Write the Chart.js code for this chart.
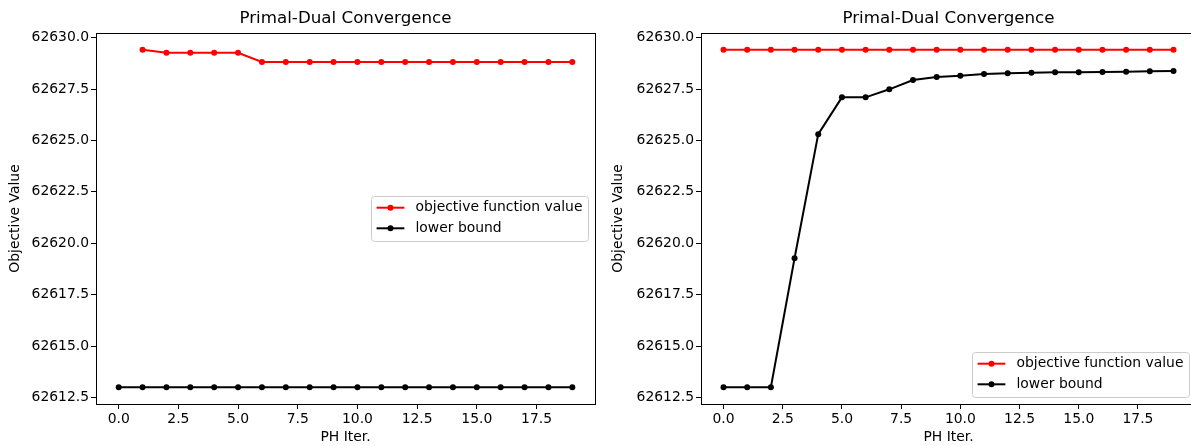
<!DOCTYPE html>
<html>
<head>
<meta charset="utf-8">
<script src="https://cdn.jsdelivr.net/npm/chart.js@4.4.1/dist/chart.umd.min.js"></script>
<style>
  html, body { margin: 0; padding: 0; background: #fff; }
  body { width: 1191px; height: 446px; overflow: hidden; position: relative; }
  .panel { position: absolute; top: 0; width: 600px; height: 446px; }
  #leftPanel { left: 0; }
  #rightPanel { left: 600px; }
</style>
</head>
<body>
<div class="panel" id="leftPanel"><canvas id="leftChart" width="600" height="446"></canvas></div>
<div class="panel" id="rightPanel"><canvas id="rightChart" width="600" height="446"></canvas></div>
<script>
const iterations = [0, 1, 2, 3, 4, 5, 6, 7, 8, 9, 10, 11, 12, 13, 14, 15, 16, 17, 18, 19];

// left panel
const leftObjective = [null, 62629.41, 62629.27, 62629.27, 62629.27, 62629.27, 62628.82, 62628.82, 62628.82, 62628.82,
    62628.82, 62628.82, 62628.82, 62628.82, 62628.82, 62628.82, 62628.82, 62628.82, 62628.82, 62628.82];
const leftLower = [62613.0, 62613.0, 62613.0, 62613.0, 62613.0, 62613.0, 62613.0, 62613.0, 62613.0, 62613.0,
    62613.0, 62613.0, 62613.0, 62613.0, 62613.0, 62613.0, 62613.0, 62613.0, 62613.0, 62613.0];

// right panel
const rightObjective = [62629.41, 62629.41, 62629.41, 62629.41, 62629.41, 62629.41, 62629.41, 62629.41, 62629.41, 62629.41,
    62629.41, 62629.41, 62629.41, 62629.41, 62629.41, 62629.41, 62629.41, 62629.41, 62629.41, 62629.41];
const rightLower = [62613.0, 62613.0, 62613.0, 62619.27, 62625.31, 62627.10, 62627.10, 62627.49, 62627.94, 62628.09,
    62628.15, 62628.23, 62628.27, 62628.30, 62628.32, 62628.32, 62628.33, 62628.35, 62628.37, 62628.38];

const xTicks = [0, 2.5, 5, 7.5, 10, 12.5, 15, 17.5];
const yTicks = [62612.5, 62615, 62617.5, 62620, 62622.5, 62625, 62627.5, 62630];
const seriesNames = ['objective function value', 'lower bound'];
const seriesColors = ['#ff0000', '#000000'];

const FONT = 'DejaVu Sans';
const TICK_SIZE = 13.9;

const toPoints = (values) => iterations.map((x, i) => ({ x: x, y: values[i] }));

const frameAndTitle = {
    id: 'frameAndTitle',
    afterDraw(chart, args, opts) {
        const ctx = chart.ctx;
        const a = chart.chartArea;
        ctx.save();
        ctx.strokeStyle = '#000';
        ctx.lineWidth = 1;
        ctx.strokeRect(Math.round(a.left) + 0.5, Math.round(a.top) + 0.5,
            Math.round(a.right - a.left), Math.round(a.bottom - a.top));
        ctx.fillStyle = '#000';
        ctx.font = '16.7px "' + FONT + '"';
        ctx.textAlign = 'center';
        ctx.textBaseline = 'middle';
        ctx.fillText(opts.text, (a.left + a.right) / 2, 19);
        ctx.restore();
    }
};

const boxLegend = {
    id: 'boxLegend',
    afterDatasetsDraw(chart, args, opts) {
        const ctx = chart.ctx;
        const a = chart.chartArea;
        const fs = TICK_SIZE;
        ctx.save();
        ctx.font = fs + 'px "' + FONT + '"';
        const textW = Math.max(...seriesNames.map(n => ctx.measureText(n).width));
        const boxW = 0.4 * fs + 2.0 * fs + 0.8 * fs + textW + 0.4 * fs;
        const boxH = 45;
        const right = a.right - 7;
        const left = right - boxW;
        const top = opts.where === 'center right' ? (a.top + a.bottom) / 2 - boxH / 2 : a.bottom - 7 - boxH;

        ctx.fillStyle = 'rgba(255,255,255,0.8)';
        ctx.strokeStyle = '#cccccc';
        ctx.lineWidth = 1;
        ctx.beginPath();
        ctx.roundRect(left + 0.5, top + 0.5, boxW, boxH, 3);
        ctx.fill();
        ctx.stroke();

        seriesNames.forEach((name, i) => {
            const y = top + 11.7 + i * 20.6;
            const x0 = left + 0.4 * fs;
            const x1 = x0 + 2.0 * fs;
            ctx.strokeStyle = seriesColors[i];
            ctx.lineWidth = 2;
            ctx.beginPath();
            ctx.moveTo(x0, y);
            ctx.lineTo(x1, y);
            ctx.stroke();
            ctx.fillStyle = seriesColors[i];
            ctx.beginPath();
            ctx.arc((x0 + x1) / 2, y, 3, 0, Math.PI * 2);
            ctx.fill();
            ctx.fillStyle = '#000';
            ctx.textAlign = 'left';
            ctx.textBaseline = 'middle';
            ctx.fillText(name, x1 + 0.8 * fs, y);
        });
        ctx.restore();
    }
};

function makeChart(canvasId, objective, lower, yAxisWidth, rightPad, yTitlePad, legendWhere) {
    const ctx = document.getElementById(canvasId).getContext('2d');
    const lineSet = (label, values, color) => ({
        label: label,
        data: toPoints(values),
        borderColor: color,
        backgroundColor: color,
        borderWidth: 2,
        pointRadius: 3,
        pointBorderWidth: 0,
        pointBackgroundColor: color,
        tension: 0,
        spanGaps: false
    });

    return new Chart(ctx, {
        type: 'line',
        data: {
            datasets: [
                lineSet(seriesNames[0], objective, seriesColors[0]),
                lineSet(seriesNames[1], lower, seriesColors[1])
            ]
        },
        options: {
            responsive: false,
            animation: false,
            devicePixelRatio: 1,
            layout: { padding: { top: 33, right: rightPad, bottom: 0, left: 0 } },
            plugins: {
                legend: { display: false },
                tooltip: { enabled: false },
                title: { display: false },
                frameAndTitle: { text: 'Primal-Dual Convergence' },
                boxLegend: { where: legendWhere }
            },
            scales: {
                x: {
                    type: 'linear',
                    min: -0.95,
                    max: 19.95,
                    afterBuildTicks: (scale) => { scale.ticks = xTicks.map(v => ({ value: v })); },
                    afterFit: (scale) => { scale.height = 42; },
                    border: { display: false },
                    grid: { drawOnChartArea: false, drawTicks: true, tickLength: 5, tickColor: '#000', tickWidth: 1 },
                    ticks: {
                        color: '#000',
                        padding: 2,
                        maxRotation: 0,
                        autoSkip: false,
                        font: { family: FONT, size: TICK_SIZE },
                        callback: (v) => Number(v).toFixed(1)
                    },
                    title: {
                        display: true,
                        text: 'PH Iter.',
                        color: '#000',
                        font: { family: FONT, size: TICK_SIZE },
                        padding: { top: 0, bottom: 0 }
                    }
                },
                y: {
                    min: 62612.18,
                    max: 62630.23,
                    afterBuildTicks: (scale) => { scale.ticks = yTicks.map(v => ({ value: v })); },
                    afterFit: (scale) => { scale.width = yAxisWidth; },
                    border: { display: false },
                    grid: { drawOnChartArea: false, drawTicks: true, tickLength: 5, tickColor: '#000', tickWidth: 1 },
                    ticks: {
                        color: '#000',
                        padding: 2,
                        autoSkip: false,
                        font: { family: FONT, size: TICK_SIZE },
                        callback: (v) => Number(v).toFixed(1)
                    },
                    title: {
                        display: true,
                        text: 'Objective Value',
                        color: '#000',
                        font: { family: FONT, size: TICK_SIZE },
                        padding: { top: yTitlePad, bottom: 0 }
                    }
                }
            }
        },
        plugins: [frameAndTitle, boxLegend]
    });
}

makeChart('leftChart', leftObjective, leftLower, 96, 5, 6.7, 'center right');
makeChart('rightChart', rightObjective, rightLower, 101, 0, 9.7, 'lower right');
</script>
</body>
</html>
